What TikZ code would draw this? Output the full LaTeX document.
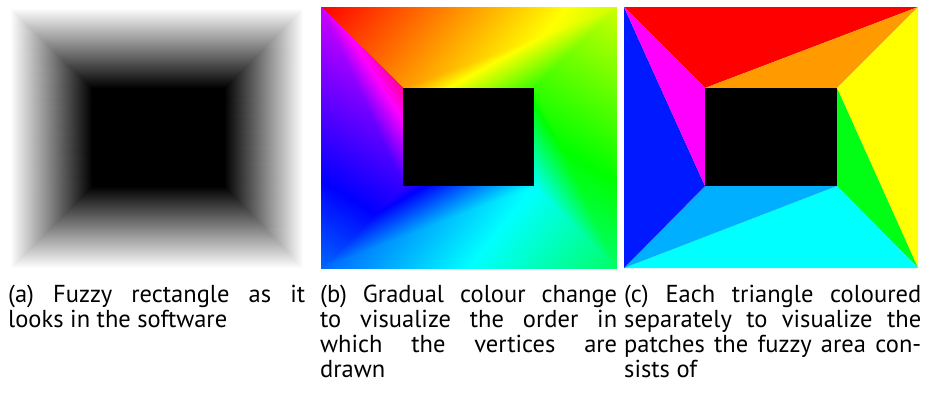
\documentclass[tikz,border=0pt]{standalone}
\usepackage{fontspec}
\setmainfont{PT Sans}
\usepackage{pgfplots}
\pgfplotsset{compat=1.18}
\definecolor{tred}{RGB}{255,0,0}
\definecolor{torange}{RGB}{255,155,0}
\definecolor{tyellow}{RGB}{255,255,0}
\definecolor{tgreen}{RGB}{0,255,20}
\definecolor{tcyan}{RGB}{0,255,255}
\definecolor{tsky}{RGB}{0,175,255}
\definecolor{tblue}{RGB}{0,25,255}
\definecolor{tmagenta}{RGB}{255,0,255}
\pgfplotsset{
  panel/.style={
    hide axis,
    x=1pt,y=1pt,
    y dir=reverse,
    xmin=0,xmax=928,
    ymin=0,ymax=394,
    at={(0,0)},
    anchor=north west,
    point meta min=0,
    point meta max=1
  }
}

\begin{document}
\begin{tikzpicture}[
  x=1pt,y=-1pt,
  capbox/.style={
    anchor=north west,
    inner sep=0pt,
    text width=297pt,
    align=justify,
    font=\fontsize{24.5}{25}\selectfont
  }
]
\useasboundingbox (0,0) rectangle (928,394);

% (a) fuzzy rectangle, grey shading
\begin{axis}[panel,colormap/blackwhite]
\addplot[patch,shader=interp,point meta=explicit] coordinates {
  (10,8)[1] (92,88)[0] (303,8)[1]
  (92,88)[0] (303,8)[1] (224,88)[0]
  (303,8)[1] (224,88)[0] (303,268)[1]
  (224,88)[0] (303,268)[1] (224,186)[0]
  (303,268)[1] (224,186)[0] (10,268)[1]
  (224,186)[0] (10,268)[1] (92,186)[0]
  (10,268)[1] (92,186)[0] (10,8)[1]
  (92,186)[0] (10,8)[1] (92,88)[0]
};
\end{axis}
\fill[black] (92,88) rectangle (224,186);

% (b) hue runs with the vertex order
\begin{axis}[panel,colormap={hue}{rgb255=(255,0,0) rgb255=(255,255,0)
    rgb255=(0,255,0) rgb255=(0,255,255) rgb255=(0,0,255)
    rgb255=(255,0,255) rgb255=(255,0,0)}]
\addplot[patch,shader=interp,point meta=explicit] coordinates {
  (321,7)[0] (403,88)[.1] (616,7)[.2]
  (403,88)[.1] (616,7)[.2] (534,88)[.3]
  (616,7)[.2] (534,88)[.3] (616,268)[.4]
  (534,88)[.3] (616,268)[.4] (534,186)[.5]
  (616,268)[.4] (534,186)[.5] (321,268)[.6]
  (534,186)[.5] (321,268)[.6] (403,186)[.7]
  (321,268)[.6] (403,186)[.7] (321,7)[.8]
  (403,186)[.7] (321,7)[.8] (403,88)[.9]
};
\end{axis}
\fill[black] (403,88) rectangle (534,186);

% (c) one colour per triangle
\coordinate (oTL) at (624,7);
\coordinate (oTR) at (918,7);
\coordinate (oBR) at (918,268);
\coordinate (oBL) at (624,268);
\coordinate (iTL) at (705,88);
\coordinate (iTR) at (837,88);
\coordinate (iBR) at (837,186);
\coordinate (iBL) at (705,186);
\fill[tred] (oTL) -- (iTL) -- (oTR) -- cycle;
\fill[torange] (iTL) -- (oTR) -- (iTR) -- cycle;
\fill[tyellow] (oTR) -- (iTR) -- (oBR) -- cycle;
\fill[tgreen] (iTR) -- (oBR) -- (iBR) -- cycle;
\fill[tcyan] (oBR) -- (iBR) -- (oBL) -- cycle;
\fill[tsky] (iBR) -- (oBL) -- (iBL) -- cycle;
\fill[tblue] (oBL) -- (iBL) -- (oTL) -- cycle;
\fill[tmagenta] (iBL) -- (oTL) -- (iTL) -- cycle;
\fill[black] (iTL) rectangle (iBR);

% captions
\node[capbox] (capA) at (8,285) {(a) Fuzzy rectangle as it\linebreak
  looks in the software};
\node[capbox] (capB) at (320,285) {(b) Gradual colour change\linebreak
  to visualize the order in\linebreak which the vertices are\linebreak drawn};
\node[capbox] (capC) at (624,285) {(c) Each triangle coloured\linebreak
  separately to visualize the\linebreak patches the fuzzy area con-\linebreak sists of};
\end{tikzpicture}
\end{document}
